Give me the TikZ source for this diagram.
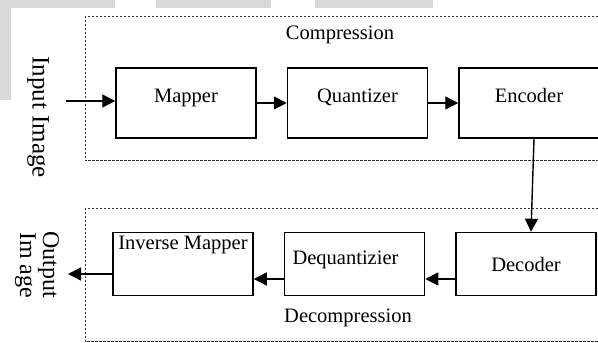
\documentclass[tikz,border=0pt]{standalone}
\usepackage{fontspec}
\setmainfont{Liberation Serif}
\usetikzlibrary{arrows.meta, positioning}

\begin{document}
\begin{tikzpicture}[x=1pt, y=1pt, >={Triangle[length=13pt, width=13pt]}, node distance=30pt,
  block/.style={rectangle, draw, line width=1.5pt, minimum width=140pt, inner sep=0pt},
  upper/.style={minimum height=70pt, text height=8pt, text depth=8pt},
  flow/.style={->, line width=1.4pt},
  frame/.style={draw=black!80, line width=1pt, dash pattern=on 2.5pt off 1.5pt},
  txt/.style={font=\fontsize{20.5}{24}\selectfont}]
\useasboundingbox (0,0) rectangle (598,343);

% Grey strips at the page edge
\fill[black!15] (0,335) rectangle (115,343);
\fill[black!15] (156,335) rectangle (271,343);
\fill[black!15] (315,335) rectangle (433,343);
\fill[black!15] (0,243) rectangle (11,343);

% Dashed frames
\draw[frame] (598,326) -- (85,326) -- (85,182) -- (598,182);
\draw[frame] (598,134) -- (85,134) -- (85,1) -- (598,1);
\node[txt] (comp) at (340,308) {Compression};
\node[txt] (decomp) at (348,25) {Decompression};

% Compression stages
\node[block, txt, upper] (mapper) at (186,240) {Mapper};
\node[block, txt, upper, right=of mapper] (quant) {Quantizer};
\node[block, txt, upper, right=of quant] (enc) {Encoder};

% Decompression stages
\node[block, txt, minimum height=63pt] (dec) at (526,79) {Decoder};
\node[block, minimum height=63pt, left=of dec,
  label={[txt, anchor=center, xshift=-9pt, yshift=4pt]center:Dequantizier}] (dequant) {};
\node[block, minimum height=63pt, left=of dequant,
  label={[txt, anchor=north, yshift=-1pt]north:Inverse Mapper}] (invmap) {};

% Input and output
\node[txt, font=\fontsize{25}{25}\selectfont, rotate=-90] (inimg) at (38,226) {Input Image};
\node[txt, font=\fontsize{24}{23}\selectfont, rotate=-90, align=center] (outimg) at (37,78) {Output\\Im age};
\coordinate (in) at (66,242);
\coordinate (out) at (68,69);

% Arrows
\draw[flow] (in) -- (mapper.west |- in);
\draw[flow] (mapper) -- (quant);
\draw[flow] (quant) -- (enc);
\draw[flow] ([xshift=5pt]enc.south) -- ([xshift=5pt]dec.north);
\draw[flow] ([yshift=-15pt]dec.west) -- ([yshift=-15pt]dequant.east);
\draw[flow] ([yshift=-15pt]dequant.west) -- ([yshift=-15pt]invmap.east);
\draw[flow] (invmap.west |- out) -- (out);

\end{tikzpicture}
\end{document}
